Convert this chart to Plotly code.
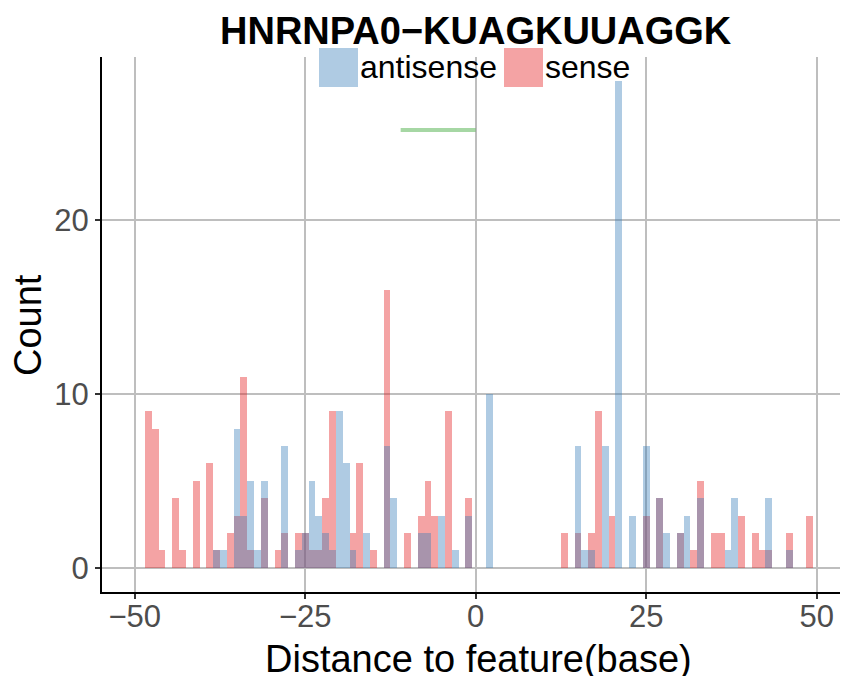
import plotly.graph_objects as go

# ---------------- data ----------------
title_text = "HNRNPA0−KUAGKUUAGGK"
series_names = ["antisense", "sense"]

antisense_pos = [-38, -37, -35, -34, -33, -32, -31, -28, -26, -25, -24, -23, -22, -21,
                 -20, -19, -18, -16, -13, -12, -8, -7, -5, -3, -1, 2, 15, 16, 17, 19,
                 21, 23, 25, 27, 28, 30, 31, 33, 37, 38, 43, 46]
antisense_cnt = [1, 1, 8, 3, 5, 1, 5, 7, 1, 2, 5, 3, 2, 1,
                 9, 6, 1, 2, 7, 4, 2, 2, 3, 1, 3, 10, 7, 1, 1, 7,
                 28, 3, 7, 4, 2, 2, 3, 4, 1, 4, 4, 1]

sense_pos = [-48, -47, -46, -44, -43, -41, -39, -38, -36, -35, -34, -33, -31, -29,
             -28, -26, -25, -24, -23, -22, -21, -18, -17, -15, -13, -10, -8, -7,
             -6, -4, -1, 13, 15, 17, 18, 20, 25, 27, 30, 32, 33, 35, 36, 39, 41,
             42, 43, 46, 49]
sense_cnt = [9, 8, 1, 4, 1, 5, 6, 1, 2, 3, 11, 1, 4, 1,
             2, 2, 2, 1, 1, 4, 9, 2, 6, 1, 16, 2, 3, 5,
             3, 9, 4, 2, 2, 2, 9, 3, 3, 4, 2, 1, 5, 2, 2, 3, 2,
             1, 1, 2, 3]

motif_x = [-11, 0]
motif_y = [25.2, 25.2]

x_ticks = [-50, -25, 0, 25, 50]
y_ticks = [0, 10, 20]

# ---------------- styling ----------------
OFF = 8                      # page offset of the plot div (body margin)
W, H = 848 - OFF, 676 - OFF  # figure size
L, T = 102 - OFF, 57 - OFF   # plot-area left/top in figure pixels
PW, PH = W - L, 535
B = H - T - PH
FONT = "Liberation Sans, Arial, Helvetica, sans-serif"
BLUE = "rgba(55,126,184,0.4)"
RED = "rgba(228,26,28,0.4)"
GREEN = "rgba(77,175,74,0.5)"


def px(x):
    """page pixel x -> paper coordinate"""
    return (x - OFF - L) / PW


def py(y):
    """page pixel y -> paper coordinate"""
    return (T + PH - (y - OFF)) / PH


fig = go.Figure()
fig.add_trace(go.Bar(x=sense_pos, y=sense_cnt, width=1, name=series_names[1],
                     marker=dict(color=RED, line=dict(width=0)), showlegend=False))
fig.add_trace(go.Bar(x=antisense_pos, y=antisense_cnt, width=1, name=series_names[0],
                     marker=dict(color=BLUE, line=dict(width=0)), showlegend=False))
fig.add_trace(go.Scatter(x=motif_x, y=motif_y, mode="lines",
                         line=dict(color=GREEN, width=4), showlegend=False,
                         hoverinfo="skip"))

axis_common = dict(showgrid=True, gridcolor="#bebebe", gridwidth=2,
                   showline=True, linecolor="black", linewidth=2,
                   ticks="outside", ticklen=5, tickwidth=2, tickcolor="#333333",
                   tickfont=dict(family=FONT, size=31, color="#4d4d4d"),
                   zeroline=False)

fig.update_layout(
    width=W, height=H,
    margin=dict(l=L, r=0, t=T, b=B, pad=0),
    paper_bgcolor="white", plot_bgcolor="white",
    barmode="overlay", bargap=0,
    showlegend=False,
    xaxis=dict(range=[-54.8, 54.6], tickvals=x_ticks, ticklabelstandoff=-9,
               **axis_common),
    yaxis=dict(range=[-1.4, 29.4], tickvals=y_ticks, **axis_common),
    font=dict(family=FONT),
)

# legend (drawn manually for large keys)
legend_keys = [(319, 358, BLUE, series_names[0]), (504, 543, RED, series_names[1])]
for x0, x1, col, name in legend_keys:
    fig.add_shape(type="rect", xref="paper", yref="paper",
                  x0=px(x0), x1=px(x1), y0=py(87), y1=py(48),
                  fillcolor=col, line=dict(width=0), layer="above")
    fig.add_annotation(x=px(x1), y=py(67), xref="paper", yref="paper",
                       text=name, showarrow=False, xanchor="left", yanchor="middle",
                       font=dict(family=FONT, size=32, color="black"))

fig.add_annotation(x=px(476), y=py(31), xref="paper", yref="paper",
                   text="<b>" + title_text + "</b>", showarrow=False,
                   xanchor="center", yanchor="middle",
                   font=dict(family=FONT, size=38, color="black"))
fig.add_annotation(x=px(478), y=py(659), xref="paper", yref="paper",
                   text="Distance to feature(base)", showarrow=False,
                   xanchor="center", yanchor="middle",
                   font=dict(family=FONT, size=38, color="black"))
fig.add_annotation(x=px(28), y=py(325), xref="paper", yref="paper",
                   text="Count", showarrow=False, textangle=-90,
                   xanchor="center", yanchor="middle",
                   font=dict(family=FONT, size=38, color="black"))

fig.write_html("out.html")
